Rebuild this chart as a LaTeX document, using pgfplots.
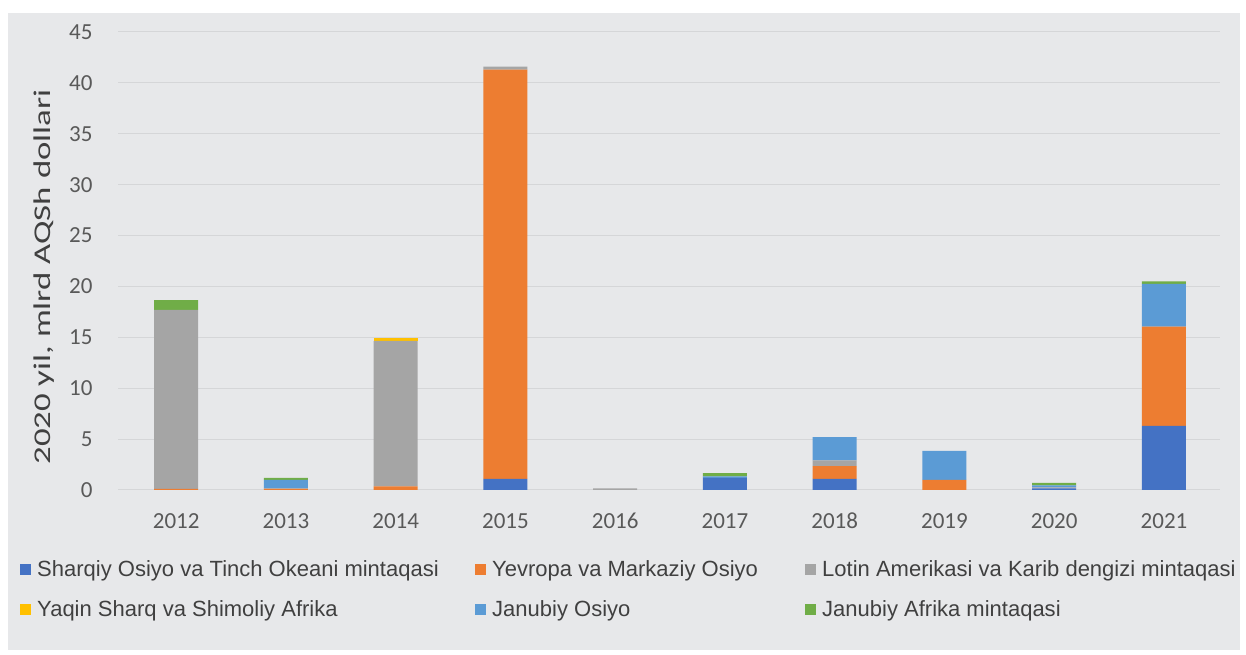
\documentclass[border=0pt]{standalone}
\usepackage{pgfplots}
\pgfplotsset{compat=1.18}
\usepackage{fontspec}
\setmainfont{Carlito}
\newfontfamily\legfont{Liberation Sans}
\definecolor{cS}{HTML}{4472C4}
\definecolor{cY}{HTML}{ED7D31}
\definecolor{cL}{HTML}{A5A5A5}
\definecolor{cQ}{HTML}{FFC000}
\definecolor{cJ}{HTML}{5B9BD5}
\definecolor{cA}{HTML}{70AD47}
\definecolor{bgc}{HTML}{E7E8EA}
\definecolor{gridc}{HTML}{D5D6D8}
\definecolor{tickc}{HTML}{595959}
\definecolor{legc}{HTML}{404040}
\pgfplotstableread{
x S Y L Q J A
0 0 0.1 17.6 0 0 0.95
1 0 0.1 0.05 0 0.85 0.2
2 0 0.35 14.3 0.3 0 0
3 1.1 40.2 0.3 0 0 0
4 0 0 0.15 0 0 0
5 1.2 0 0 0 0.15 0.3
6 1.1 1.25 0.55 0 2.3 0
7 0 1.0 0 0 2.85 0
8 0.15 0 0.1 0 0.2 0.25
9 6.3 9.75 0 0 4.2 0.25
}\data
\begin{document}
\begin{tikzpicture}[x=1pt,y=1pt]
\useasboundingbox (0,0) rectangle (1246,655);
\fill[white] (0,0) rectangle (1246,655);
\fill[bgc] (8,5) rectangle (1240,642);
\begin{axis}[
  at={(118pt,165pt)}, anchor=south west,
  width=1102pt, height=458pt, scale only axis,
  ybar stacked, bar width=44pt,
  xmin=-0.53, xmax=9.51, ymin=0, ymax=45,
  ytick={0,5,...,45},
  xtick={0,...,9},
  xticklabels={2012,2013,2014,2015,2016,2017,2018,2019,2020,2021},
  ymajorgrids, grid style={color=gridc, line width=1pt},
  axis line style={draw=none},
  major tick length=0pt,
  tick label style={font=\fontsize{23}{26}\selectfont, text=tickc},
  /pgf/number format/assume math mode=true,
  xticklabel style={yshift=-20pt, text height=15pt, text depth=0pt},
  yticklabel style={xshift=-22pt},
  every axis y label/.style={at={(axis description cs:-0.067,0.465)}, anchor=center, rotate=90},
  ylabel={\fontsize{24}{28}\selectfont\color{legc}\scalebox{1.45}[1]{2020 yil, mlrd AQSh dollari}},
  legend style={at={(axis description cs:-0.0889,-0.15)}, anchor=north west,
    draw=none, fill=none, legend columns=3,
    font=\legfont\fontsize{22}{26}\selectfont, text=legc,
    inner sep=0pt, row sep=18pt, column sep=0pt},
  legend cell align=left,
  legend image code/.code={\fill[#1] (0pt,-5.5pt) rectangle (11pt,5.5pt); \path (15pt,0pt);},
]
\addplot[fill=cS, draw=none] table[x=x,y=S]{\data};
\addplot[fill=cY, draw=none] table[x=x,y=Y]{\data};
\addplot[fill=cL, draw=none] table[x=x,y=L]{\data};
\addplot[fill=cQ, draw=none] table[x=x,y=Q]{\data};
\addplot[fill=cJ, draw=none] table[x=x,y=J]{\data};
\addplot[fill=cA, draw=none] table[x=x,y=A]{\data};
\addlegendentry{\makebox[436pt][l]{Sharqiy Osiyo va Tinch Okeani mintaqasi}}
\addlegendentry{\makebox[311pt][l]{Yevropa va Markaziy Osiyo}}
\addlegendentry{Lotin Amerikasi va Karib dengizi mintaqasi}
\addlegendentry{\makebox[436pt][l]{Yaqin Sharq va Shimoliy Afrika}}
\addlegendentry{\makebox[311pt][l]{Janubiy Osiyo}}
\addlegendentry{Janubiy Afrika mintaqasi}
\end{axis}
\end{tikzpicture}
\end{document}
